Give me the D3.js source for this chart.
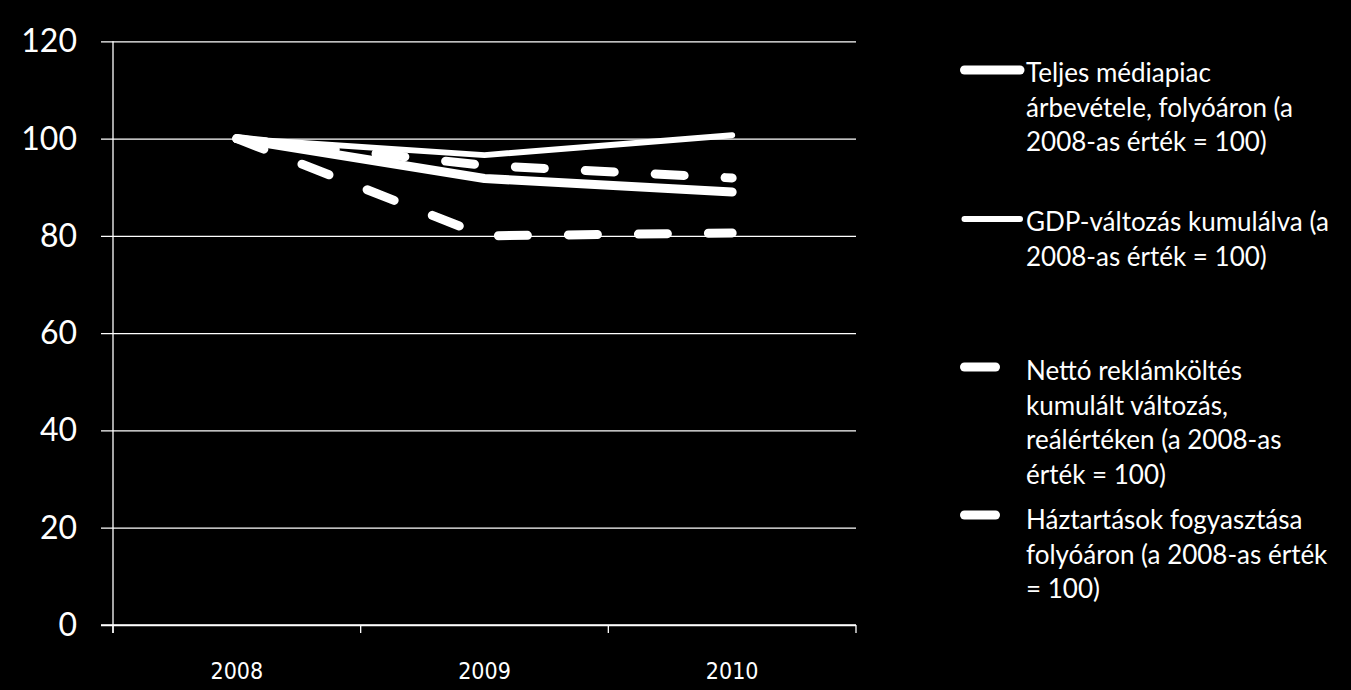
<!DOCTYPE html>
<html><head><meta charset="utf-8">
<script src="https://cdn.jsdelivr.net/npm/d3@7"></script>
<style>html,body{margin:0;padding:0;background:#000;}svg{display:block;}</style>
</head><body>
<svg id="chart" width="1351" height="690"></svg>
<script>
const categories = ["2008", "2009", "2010"];
const seriesNames = [
  ["Teljes médiapiac", "árbevétele, folyóáron (a", "2008-as érték = 100)"],
  ["GDP-változás kumulálva (a", "2008-as érték = 100)"],
  ["Nettó reklámköltés", "kumulált változás,", "reálértéken (a 2008-as", "érték = 100)"],
  ["Háztartások fogyasztása", "folyóáron (a 2008-as érték", "= 100)"]
];
const teljes = [100, 91.8, 89.0];
const gdp = [100, 96.6, 100.7];
const netto = [100, 80.0, 80.6];
const haztartas = [100, 94.5, 91.9];
const yTicks = [0, 20, 40, 60, 80, 100, 120];

const svg = d3.select("#chart");
svg.append("rect").attr("width", 1351).attr("height", 690).attr("fill", "#000");

const L = 113, R = 856, T = 41.3, B = 625;
const x = d3.scaleBand().domain(categories).range([L, R]);
const y = d3.scaleLinear().domain([0, 120]).range([B, T]);

// gridlines + y ticks
const gy = svg.append("g").attr("transform", `translate(${L},0)`)
  .call(d3.axisLeft(y).tickValues(yTicks).tickSize(12).tickFormat(d => d).tickPadding(36));
gy.select(".domain").attr("stroke", "#fff").attr("stroke-width", 1.3).attr("d", `M0,${T}V${B + 8}`);
gy.selectAll(".tick line").attr("stroke", "#fff").attr("stroke-width", 1.3).attr("x1", -12).attr("x2", R - L);
gy.selectAll(".tick text").attr("fill", "#fff").style("font-family", "Lato, 'Open Sans', sans-serif")
  .style("font-size", "32px").attr("x", -36).attr("dy", "0.33em");

// x axis
const gx = svg.append("g").attr("transform", `translate(0,${B})`)
  .call(d3.axisBottom(x).tickSize(0).tickPadding(0));
gx.select(".domain").remove();
gx.selectAll(".tick text").attr("fill", "#fff").attr("y", 38)
  .style("font-family", "'Liberation Sans Narrow', 'DejaVu Sans Condensed', sans-serif")
  .style("font-size", "23px");
svg.append("line").attr("x1", L - 12).attr("x2", R).attr("y1", B).attr("y2", B)
  .attr("stroke", "#fff").attr("stroke-width", 1.3);
const bounds = [L, ...categories.map(c => x(c) + x.bandwidth())];
svg.selectAll("line.xt").data(bounds).enter().append("line").attr("class", "xt")
  .attr("x1", d => d).attr("x2", d => d).attr("y1", B).attr("y2", B + 8)
  .attr("stroke", "#fff").attr("stroke-width", 1.3);

const line = d3.line().x((d, i) => x(categories[i]) + x.bandwidth() / 2).y(d => y(d));
const styles = [
  { data: teljes, w: 9, dash: null },
  { data: gdp, w: 6, dash: null },
  { data: netto, w: 9, dash: "29,41" },
  { data: haztartas, w: 9, dash: "29,41" }
];
styles.forEach(s => {
  svg.append("path").attr("d", line(s.data)).attr("fill", "none").attr("stroke", "#fff")
    .attr("stroke-width", s.w).attr("stroke-linecap", "round").attr("stroke-linejoin", "round")
    .attr("stroke-dasharray", s.dash);
});

// legend
const legendY = [70, 219, 367, 515];
const textBase = [82, 231, 380, 529];
const lh = 34.5;
styles.forEach((s, i) => {
  const x1 = 964.5, x2 = s.dash ? 995.5 : 1020;
  svg.append("line").attr("x1", x1).attr("x2", x2).attr("y1", legendY[i]).attr("y2", legendY[i])
    .attr("stroke", "#fff").attr("stroke-width", s.w).attr("stroke-linecap", "round");
  const t = svg.append("text").attr("x", 1026).attr("y", textBase[i]).attr("fill", "#fff")
    .style("font-family", "Lato, 'Open Sans', sans-serif").style("font-size", "26px");
  seriesNames[i].forEach((ln, j) => {
    t.append("tspan").attr("x", 1026).attr("y", textBase[i] + j * lh).text(ln);
  });
});
</script>
</body></html>
